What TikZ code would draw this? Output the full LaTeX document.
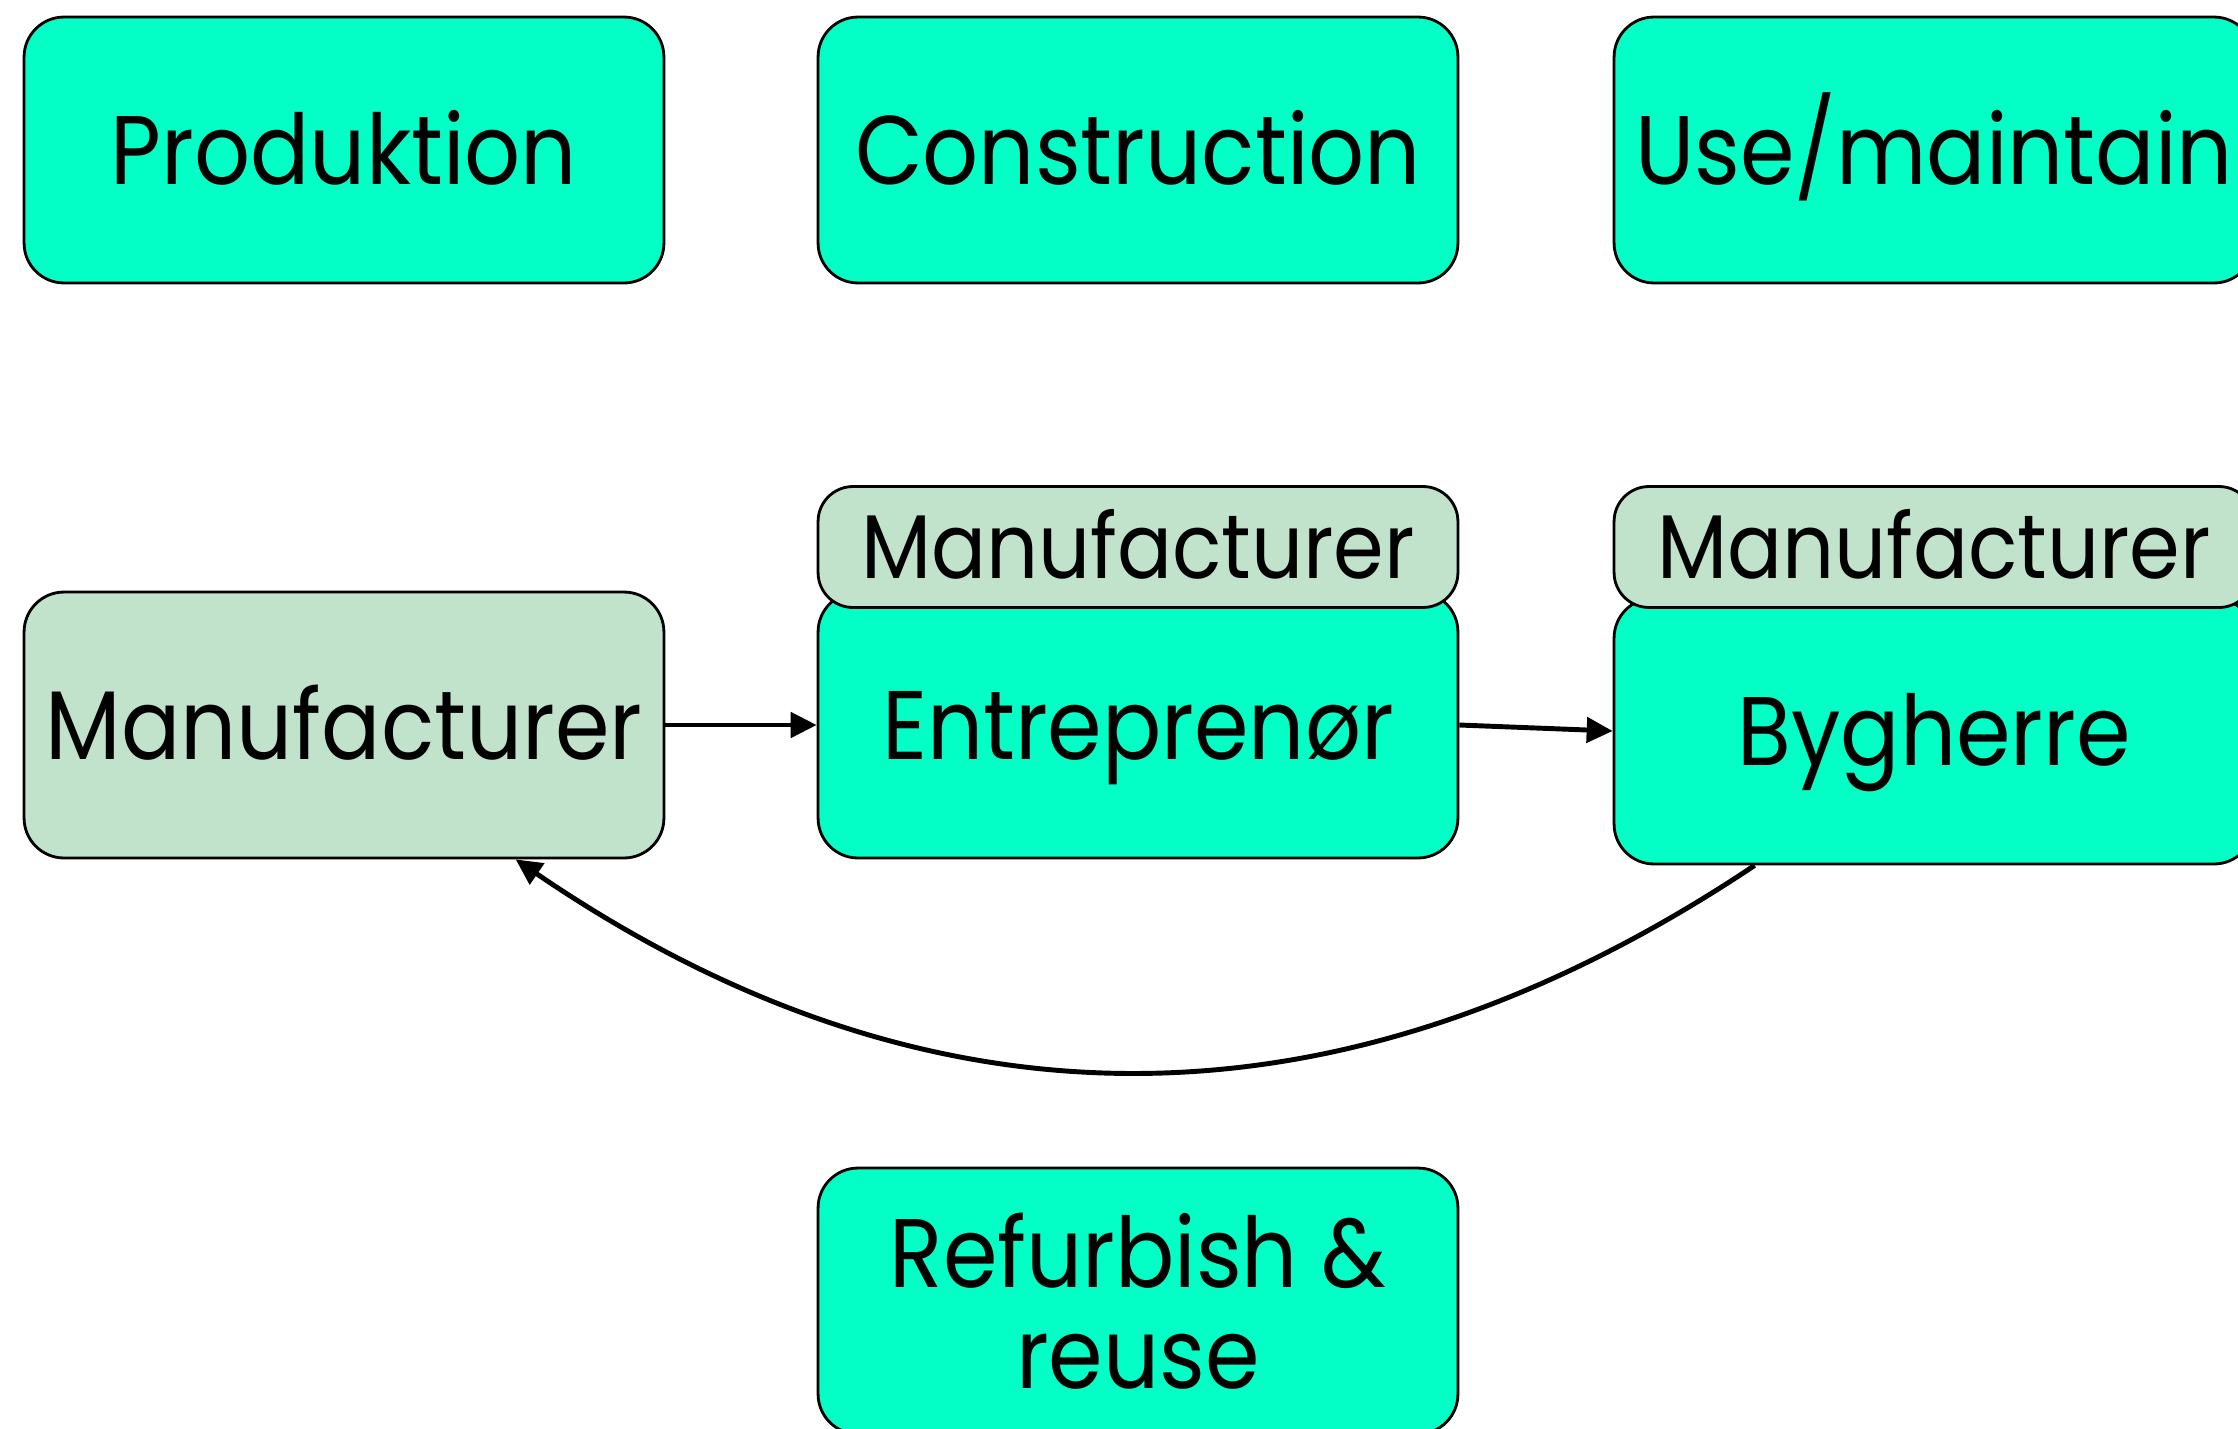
\documentclass[tikz,border=0pt]{standalone}
\usepackage{fontspec}
\setmainfont{Poppins}[FakeStretch=0.9]
\usetikzlibrary{arrows.meta,calc}
\definecolor{mint}{RGB}{4,255,198}
\definecolor{pale}{RGB}{193,226,203}
\tikzset{
  box/.style={draw=black, line width=1.6pt, rounded corners=0.8cm, fill=mint,
    minimum width=12.8cm, minimum height=5.32cm, inner sep=0pt,
    font=\fontsize{55.5}{57.5}\selectfont, align=center,
    text height=38.8pt, text depth=0pt},
  mbox/.style={box, fill=pale},
  tag/.style={box, fill=pale, minimum height=2.42cm, rounded corners=0.7cm,
    font=\fontsize{51.5}{54}\selectfont, text height=36pt},
  multibox/.style={box, text height=, text depth=},
  conn/.style={line width=2.8pt, -{Triangle[length=0.52cm,width=0.5cm]}}
}
\begin{document}
\begin{tikzpicture}[x=0.02cm,y=-0.02cm]
\useasboundingbox (0,0) rectangle (2238,1428);
\node[box] (prod) at (344,150) {Produktion};
\node[box] (cons) at (1138,150) {Construction};
\node[box] (use) at (1934,150) {Use/maintain};
\node[mbox] (man) at (344,725) {Manufacturer};
\node[box] (ent) at (1138,725) {Entreprenør};
\node[box] (byg) at (1934,731) {Bygherre};
\node[tag] (tagm) at (1138,547) {Manufacturer};
\node[tag] (tagr) at (1934,547) {Manufacturer};
\node[multibox] (ref) at (1138,1301) {Refurbish \&\\reuse};
\draw[conn] (man.east) -- (ent.west);
\draw[conn] (ent.east) -- (byg.west);
\draw[conn] ($(byg.south west)+(142,0)$) .. controls (1341,1142) and (928,1141) .. ($(man.south west)+(493,0)$);
\end{tikzpicture}
\end{document}
